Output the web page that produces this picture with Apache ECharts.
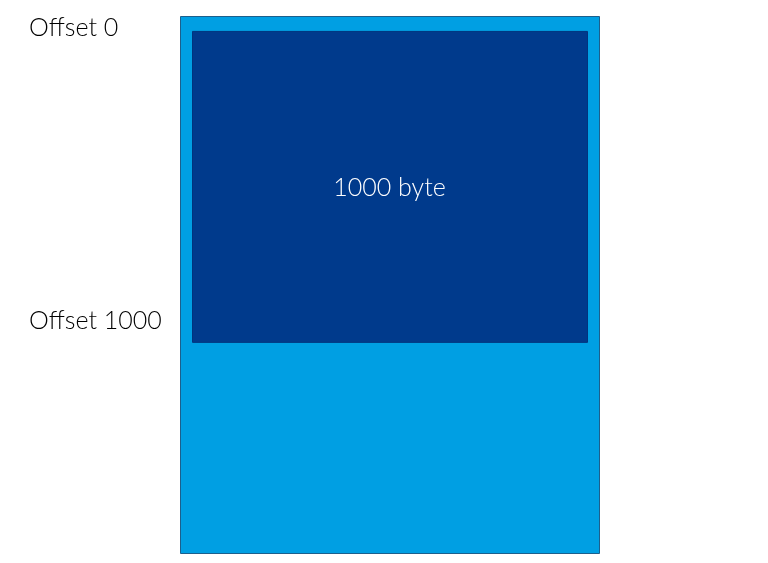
<!DOCTYPE html>
<html><head><meta charset="utf-8">
<script src="https://cdn.jsdelivr.net/npm/echarts@6/dist/echarts.min.js"></script>
<style>html,body{margin:0;padding:0;background:#fff}#c{width:768px;height:563px}</style>
</head><body><div id="c"></div>
<script>
// Data (bytes)
const bufferStart = -48;          // top of outer buffer
const bufferEnd = 1679;           // bottom of outer buffer
const blockStart = 0;             // block offset start
const blockEnd = 1000;            // block offset end
const blockLabel = '1000 byte';
const offsetValues = [0, 1000];
const offsetLabels = ['Offset 0', 'Offset 1000'];

// Style
const labelDy = [-3, -21];
const FONT = 'Lato';

const chart = echarts.init(document.getElementById('c'), null, {renderer: 'canvas'});
chart.setOption({
  animation: false,
  grid: {left: 180, right: 169, top: 16, bottom: 10},
  xAxis: {type: 'value', min: 0, max: 100, show: false},
  yAxis: {type: 'value', inverse: true, min: bufferStart, max: bufferEnd, show: false},
  series: [
    {
      type: 'custom',
      data: [[bufferStart, bufferEnd]],
      renderItem: function (params, api) {
        const p0 = api.coord([0, api.value(0)]);
        const p1 = api.coord([100, api.value(1)]);
        return {type: 'rect', shape: {x: p0[0] + 0.5, y: p0[1] + 0.5, width: p1[0] - p0[0], height: p1[1] - p0[1]},
          style: {fill: '#009fe3', stroke: '#1d5f8c', lineWidth: 1}};
      }
    },
    {
      type: 'custom',
      data: [[blockStart, blockEnd, blockLabel]],
      renderItem: function (params, api) {
        const p0 = api.coord([0, api.value(0)]);
        const p1 = api.coord([100, api.value(1)]);
        const x0 = p0[0] + 12, x1 = p1[0] - 12;
        return {type: 'group', children: [
          {type: 'rect', shape: {x: x0 + 0.5, y: p0[1] + 0.5, width: x1 - x0, height: p1[1] - p0[1]},
            style: {fill: '#003a8c', stroke: '#00347e', lineWidth: 1}},
          {type: 'text', x: (x0 + x1) / 2, y: p0[1] + 157,
            style: {text: blockLabel, fill: '#ffffff', fontFamily: FONT, fontWeight: 300, fontSize: 25, align: 'center', verticalAlign: 'middle'}}
        ]};
      }
    },
    {
      type: 'custom',
      data: offsetValues.map((v, i) => [v, i]),
      renderItem: function (params, api) {
        const i = api.value(1);
        const p = api.coord([0, api.value(0)]);
        return {type: 'text', x: 29, y: p[1] + labelDy[i],
          style: {text: offsetLabels[i], fill: '#000000', fontFamily: FONT, fontWeight: 300, fontSize: 25, align: 'left', verticalAlign: 'middle'}};
      }
    }
  ]
});
</script></body></html>
